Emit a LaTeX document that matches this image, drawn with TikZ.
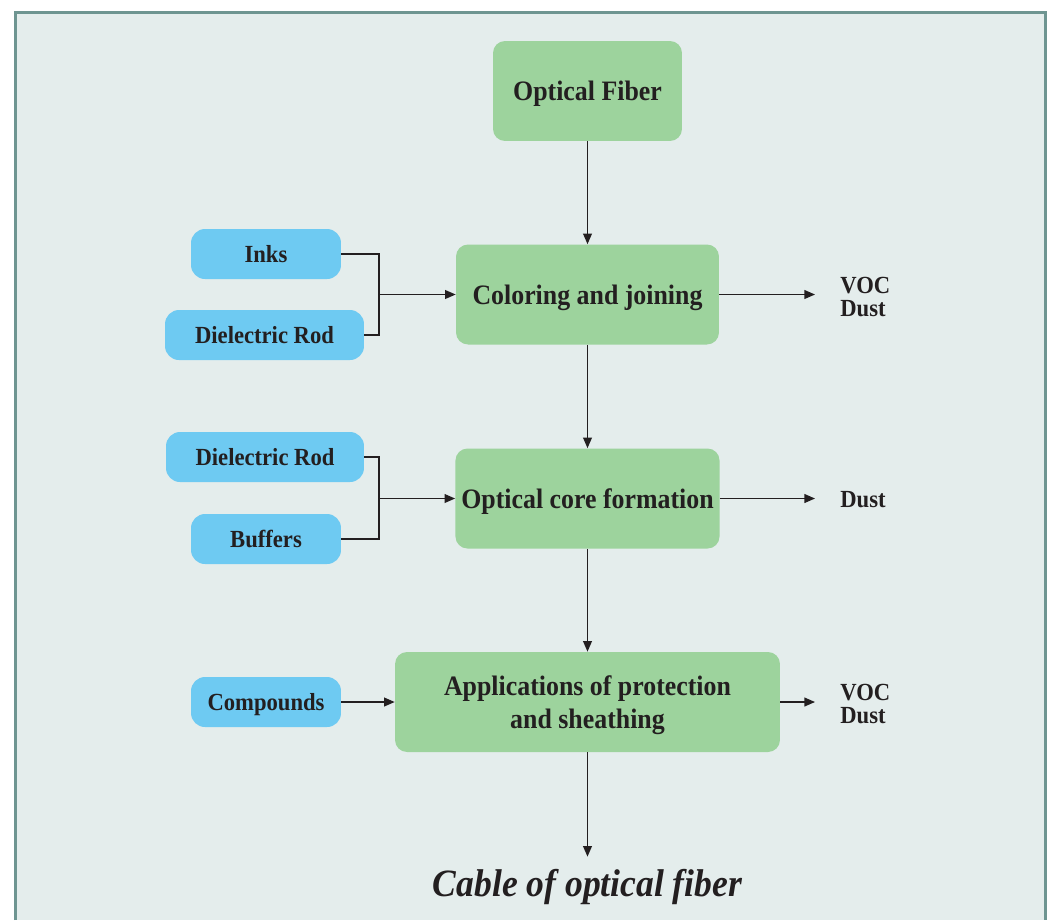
\documentclass[tikz,border=0pt]{standalone}
\usepackage{fontspec}
\setmainfont[FakeStretch=0.92]{Liberation Serif}
\usetikzlibrary{positioning}
\usetikzlibrary{arrows.meta}
\definecolor{boxgreen}{RGB}{157,211,157}
\definecolor{boxblue}{RGB}{110,202,242}
\definecolor{panelbg}{RGB}{228,237,236}
\definecolor{panelframe}{RGB}{110,149,145}
\definecolor{inkdark}{RGB}{35,31,32}
\tikzset{
    greenbox/.style = {rectangle, rounded corners=0.24cm, fill=boxgreen, align=center, text=inkdark, font=\bfseries\fontsize{16}{19}\selectfont, text depth=0pt, minimum height=2cm},
    bluebox/.style = {rectangle, rounded corners=0.28cm, fill=boxblue, align=center, text=inkdark, font=\bfseries\fontsize{14}{16}\selectfont, text depth=0pt, minimum height=1cm},
    outtext/.style = {anchor=west, align=left, inner sep=0pt, text=inkdark, font=\bfseries\fontsize{14}{13.6}\selectfont},
    flow/.style = {-{Triangle[length=6pt,width=5pt]}, line width=0.75pt, inkdark}, % arrows
    joint/.style = {-, line width=0.75pt, inkdark} % merging lines
}
\begin{document}
\begin{tikzpicture}[x=0.02cm, y=-0.02cm]
  \useasboundingbox (0,0) rectangle (1050,920);
  \fill[white] (0,0) rectangle (1050,920);
  \fill[panelbg] (14,11) rectangle (1047,920);
  \draw[panelframe, line width=2pt] (15.5,920) -- (15.5,12.5) -- (1045.5,12.5) -- (1045.5,920);

  % main process
  \node[greenbox, minimum width=3.78cm] (fiber) at (587.5,91) {Optical Fiber};
  \node[greenbox, minimum width=5.26cm] (color) at (587.5,294.5) {Coloring and joining};
  \node[greenbox, minimum width=5.26cm] (core) at (587.5,498.5) {Optical core formation};
  \node[greenbox, minimum width=7.7cm] (apps) at (587.5,702) {Applications of protection\\and sheathing};
  \node[text=inkdark, font=\bfseries\itshape\fontsize{22}{26}\selectfont, inner sep=1pt] (cable) at (587.5,887) {Cable of optical fiber};

  % inputs
  \node[bluebox, minimum width=3cm] (inks) at (266,254) {Inks};
  \node[bluebox, minimum width=3.98cm] (rodA) at (264.5,335) {Dielectric Rod};
  \node[bluebox, minimum width=3.96cm] (rodB) at (265,457) {Dielectric Rod};
  \node[bluebox, minimum width=3cm] (buffers) at (266,539) {Buffers};
  \node[bluebox, minimum width=3cm] (compounds) at (266,702) {Compounds};

  % outputs
  \node[outtext] (outA) at (840,297) {VOC\\Dust};
  \node[outtext] (outB) at (840,500) {Dust};
  \node[outtext] (outC) at (840,704) {VOC\\Dust};

  \coordinate (joinA) at (379,294.5);
  \coordinate (joinB) at (379,498.5);
  \coordinate (endA) at (815,294.5);
  \coordinate (endB) at (815,498.5);
  \coordinate (endC) at (815,702);

  \draw[flow] (fiber.south) -- (color.north);
  \draw[flow] (color.south) -- (core.north);
  \draw[flow] (core.south) -- (apps.north);
  \draw[flow, shorten >=6pt] (apps.south) -- (cable.north);

  \draw[joint] (inks.east) -| (joinA) |- (rodA.east);
  \draw[flow] (joinA) -- (color.west);
  \draw[joint] (rodB.east) -| (joinB) |- (buffers.east);
  \draw[flow] (joinB) -- (core.west);
  \draw[flow] (compounds.east) -- (apps.west);

  \draw[flow] (color.east) -- (endA);
  \draw[flow] (core.east) -- (endB);
  \draw[flow] (apps.east) -- (endC);
\end{tikzpicture}
\end{document}
